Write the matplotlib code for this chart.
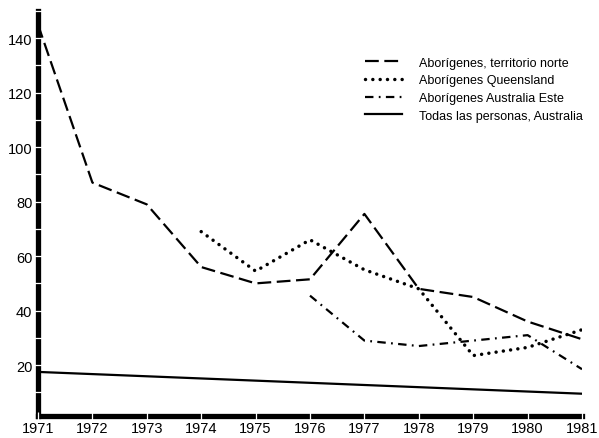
import matplotlib
matplotlib.use("Agg")
import matplotlib.pyplot as plt
from matplotlib.ticker import MultipleLocator

plt.rcParams['font.family'] = ['Liberation Sans', 'DejaVu Sans']

YEARS_NT = [1971, 1972, 1973, 1974, 1975, 1976, 1977, 1978, 1979, 1980, 1981]
NT = [145, 87, 79, 56, 50, 51.5, 75.5, 48, 45, 36, 29.5]

YEARS_QLD = [1974, 1975, 1976, 1977, 1978, 1979, 1980, 1981]
QLD = [69, 54.5, 66, 55, 48, 23.5, 26.5, 33]

YEARS_EST = [1976, 1977, 1978, 1979, 1980, 1981]
EST = [45.5, 29, 27, 29, 31, 18.5]

YEARS_ALL = [1971, 1972, 1973, 1974, 1975, 1976, 1977, 1978, 1979, 1980, 1981]
ALL = [17.5, 16.7, 15.9, 15.1, 14.3, 13.5, 12.7, 11.9, 11.1, 10.3, 9.5]

LABELS = ["Aborígenes, territorio norte", "Aborígenes Queensland",
          "Aborígenes Australia Este", "Todas las personas, Australia"]

fig = plt.figure(figsize=(5.99, 4.39), dpi=100)
ax = fig.add_axes([38/599, 1 - 416.5/439, (582 - 38)/599, (416.5 - 12)/439])

lw = 1.6
ax.plot(YEARS_NT, NT, c="k", lw=lw, ls=(0, (6.2, 2.5)), label=LABELS[0])
ax.plot(YEARS_QLD, QLD, c="k", lw=2.5, ls=(0, (0.01, 2.1)),
        dash_capstyle="round", label=LABELS[1])
ax.plot(YEARS_EST, EST, c="k", lw=lw, ls=(0, (3.8, 2.4, 0.8, 2.4)),
        label=LABELS[2])
ax.plot(YEARS_ALL, ALL, c="k", lw=lw, label=LABELS[3])

ax.set_xlim(1971, 1981)
ax.set_ylim(1.5, 150)
ax.set_xticks(YEARS_ALL)
ax.set_yticks(range(20, 141, 20))
ax.yaxis.set_minor_locator(MultipleLocator(10))

for s in ["top", "right"]:
    ax.spines[s].set_visible(False)
for s in ["left", "bottom"]:
    ax.spines[s].set_linewidth(3.8)
    ax.spines[s].set_zorder(1)

ax.tick_params(which="both", direction="inout", color="white", length=6,
               width=0.9, labelsize=10.5, pad=1)
ax.tick_params(axis="x", pad=1)

ax.legend(loc="upper left", bbox_to_anchor=(0.58, 0.915), frameon=False,
          fontsize=9, handlelength=3.0, handletextpad=1.3, labelspacing=0.45)

fig.savefig("out.png", dpi=100)
